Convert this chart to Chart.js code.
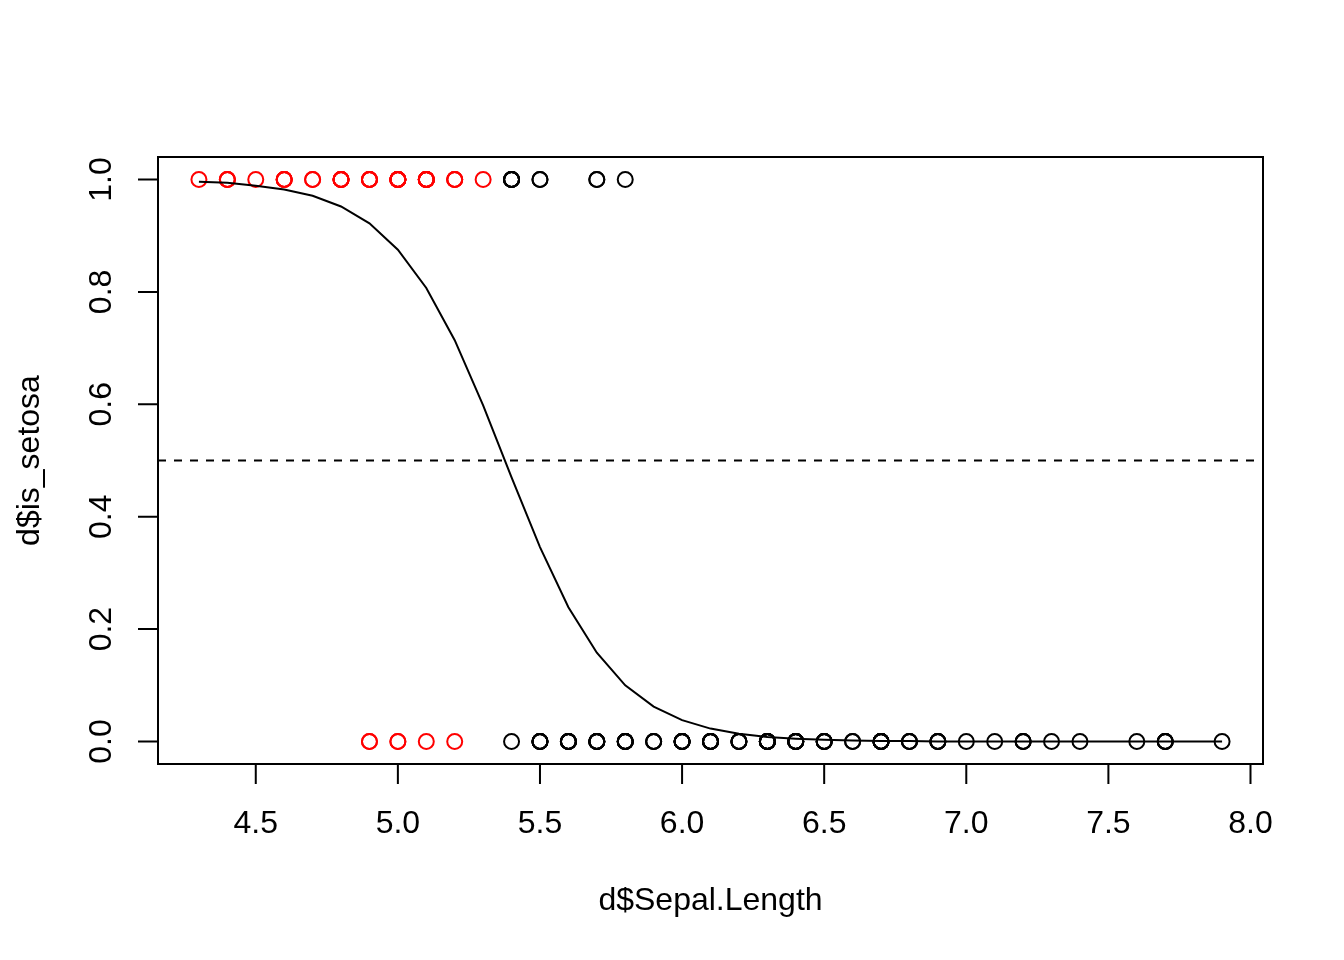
<!DOCTYPE html>
<html>
<head>
<meta charset="utf-8">
<script src="https://cdn.jsdelivr.net/npm/chart.js@4"></script>
<style>
  body { margin: 0; background: #fff; }
</style>
</head>
<body>
<canvas id="logitChart" width="1344" height="960"></canvas>
<script>
// points predicted as setosa (drawn red); counts = overplotted observations
const redX = [4.3, 4.4, 4.5, 4.6, 4.7, 4.8, 4.9, 5.0, 5.1, 5.2, 5.3, 4.9, 5.0, 5.1, 5.2];
const redY = [1, 1, 1, 1, 1, 1, 1, 1, 1, 1, 1, 0, 0, 0, 0];
const redCount = [1, 3, 1, 4, 2, 5, 4, 8, 8, 3, 1, 2, 2, 1, 1];

// points predicted as not setosa (drawn black)
const blackX = [5.4, 5.5, 5.7, 5.8,
                5.4, 5.5, 5.6, 5.7, 5.8, 5.9, 6.0, 6.1, 6.2, 6.3, 6.4, 6.5, 6.6, 6.7,
                6.8, 6.9, 7.0, 7.1, 7.2, 7.3, 7.4, 7.6, 7.7, 7.9];
const blackY = [1, 1, 1, 1,
                0, 0, 0, 0, 0, 0, 0, 0, 0, 0, 0, 0, 0, 0,
                0, 0, 0, 0, 0, 0, 0, 0, 0, 0];
const blackCount = [5, 2, 2, 1,
                    1, 5, 6, 6, 6, 3, 6, 6, 4, 9, 7, 5, 2, 8,
                    3, 4, 1, 1, 3, 1, 1, 1, 4, 1];

// fitted probability curve
const curveX = [4.3, 4.4, 4.5, 4.6, 4.7, 4.8, 4.9, 5.0, 5.1, 5.2, 5.3, 5.4, 5.5, 5.6, 5.7,
                5.8, 5.9, 6.0, 6.1, 6.2, 6.3, 6.4, 6.5, 6.6, 6.7, 6.8, 6.9, 7.0, 7.1,
                7.2, 7.3, 7.4, 7.6, 7.7, 7.9];
const curveY = [0.996, 0.994, 0.989, 0.982, 0.971, 0.952, 0.922, 0.875, 0.807, 0.714, 0.598, 0.470, 0.346, 0.239, 0.158,
                0.100, 0.062, 0.038, 0.023, 0.014, 0.008, 0.005, 0.003, 0.002, 0.001, 0.001, 0.000, 0.000, 0.000,
                0.000, 0.000, 0.000, 0.000, 0.000, 0.000];

const cutoff = 0.5;

const xTicks = [4.5, 5.0, 5.5, 6.0, 6.5, 7.0, 7.5, 8.0];
const yTicks = [0.0, 0.2, 0.4, 0.6, 0.8, 1.0];
const xRange = [4.156, 8.044];
const yRange = [-0.04, 1.04];

const xTitle = 'd$Sepal.Length';
const yTitle = 'd$is_setosa';

function toPoints(xs, ys, counts) {
    const pts = [];
    xs.forEach((x, i) => {
        const n = counts ? counts[i] : 1;
        for (let k = 0; k < n; k++) pts.push({ x: x, y: ys[i] });
    });
    return pts;
}

// R style box, ticks and labels
const baseAxes = {
    id: 'baseAxes',
    afterDraw(chart) {
        const ctx = chart.ctx;
        const area = chart.chartArea;
        const xs = chart.scales.x;
        const ys = chart.scales.y;
        ctx.save();
        ctx.strokeStyle = '#000';
        ctx.fillStyle = '#000';
        ctx.lineWidth = 2;
        ctx.strokeRect(area.left, area.top, area.right - area.left, area.bottom - area.top);

        ctx.font = '32px "Liberation Sans", Arial, sans-serif';

        // x axis
        const x0 = xs.getPixelForValue(xTicks[0]);
        const x1 = xs.getPixelForValue(xTicks[xTicks.length - 1]);
        ctx.beginPath();
        ctx.moveTo(x0, area.bottom);
        ctx.lineTo(x1, area.bottom);
        xTicks.forEach(v => {
            const px = xs.getPixelForValue(v);
            ctx.moveTo(px, area.bottom);
            ctx.lineTo(px, area.bottom + 20);
        });
        ctx.stroke();
        ctx.textAlign = 'center';
        ctx.textBaseline = 'alphabetic';
        xTicks.forEach(v => {
            ctx.fillText(v.toFixed(1), xs.getPixelForValue(v), 833);
        });
        ctx.fillText(xTitle, (area.left + area.right) / 2, 910);

        // y axis
        const y0 = ys.getPixelForValue(yTicks[0]);
        const y1 = ys.getPixelForValue(yTicks[yTicks.length - 1]);
        ctx.beginPath();
        ctx.moveTo(area.left, y0);
        ctx.lineTo(area.left, y1);
        yTicks.forEach(v => {
            const py = ys.getPixelForValue(v);
            ctx.moveTo(area.left, py);
            ctx.lineTo(area.left - 20, py);
        });
        ctx.stroke();
        yTicks.forEach(v => {
            ctx.save();
            ctx.translate(111, ys.getPixelForValue(v));
            ctx.rotate(-Math.PI / 2);
            ctx.fillText(v.toFixed(1), 0, 0);
            ctx.restore();
        });
        ctx.save();
        ctx.translate(39, (area.top + area.bottom) / 2);
        ctx.rotate(-Math.PI / 2);
        ctx.fillText(yTitle, 0, 0);
        ctx.restore();

        ctx.restore();
    }
};

whenReady(() => {
    const ctx = document.getElementById('logitChart');
    new Chart(ctx, {
        type: 'scatter',
        data: {
            datasets: [
                {
                    label: 'cutoff',
                    data: [{ x: xRange[0], y: cutoff }, { x: xRange[1], y: cutoff }],
                    showLine: true,
                    borderColor: '#000',
                    borderWidth: 2,
                    borderDash: [8, 8],
                    pointRadius: 0,
                    order: 0
                },
                {
                    label: 'fitted',
                    data: toPoints(curveX, curveY),
                    showLine: true,
                    borderColor: '#000',
                    borderWidth: 2,
                    tension: 0,
                    pointRadius: 0,
                    order: 1
                },
                {
                    label: 'predicted setosa',
                    data: toPoints(redX, redY, redCount),
                    pointStyle: 'circle',
                    pointRadius: 7.5,
                    borderWidth: 2,
                    borderColor: '#ff0000',
                    backgroundColor: 'rgba(0,0,0,0)',
                    order: 2
                },
                {
                    label: 'predicted other',
                    data: toPoints(blackX, blackY, blackCount),
                    pointStyle: 'circle',
                    pointRadius: 7.5,
                    borderWidth: 2,
                    borderColor: '#000',
                    backgroundColor: 'rgba(0,0,0,0)',
                    order: 2
                }
            ]
        },
        options: {
            responsive: false,
            animation: false,
            layout: { padding: { left: 158, top: 157, right: 81, bottom: 196 } },
            plugins: {
                legend: { display: false },
                tooltip: { enabled: false }
            },
            scales: {
                x: { type: 'linear', min: xRange[0], max: xRange[1], display: false },
                y: { type: 'linear', min: yRange[0], max: yRange[1], display: false }
            }
        },
        plugins: [baseAxes]
    });
});

function whenReady(action) {
    if (document.readyState === 'loading') {
        document.addEventListener('DOMContentLoaded', action);
    } else {
        action();
    }
}
</script>
</body>
</html>
